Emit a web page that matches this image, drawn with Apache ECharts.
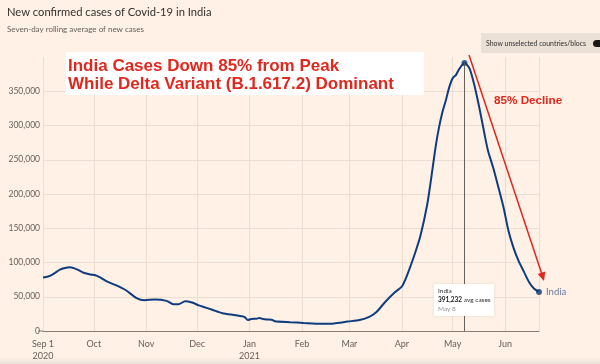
<!DOCTYPE html>
<html><head><meta charset="utf-8">
<script src="https://cdn.jsdelivr.net/npm/echarts@6/dist/echarts.min.js"></script>
<style>html,body{margin:0;padding:0;background:#fff1e5;}#c{width:600px;height:364px;}</style>
</head><body><div id="c"></div>
<script>
const dates = ['2020-09-01','2020-09-04','2020-09-07','2020-09-11','2020-09-14','2020-09-17','2020-09-21','2020-09-25','2020-09-29','2020-10-02','2020-10-05','2020-10-09','2020-10-14','2020-10-20','2020-10-26','2020-10-31','2020-11-06','2020-11-13','2020-11-17','2020-11-20','2020-11-24','2020-11-28','2020-12-02','2020-12-05','2020-12-10','2020-12-16','2020-12-24','2020-12-29','2020-12-31','2021-01-02','2021-01-05','2021-01-07','2021-01-09','2021-01-11','2021-01-14','2021-01-16','2021-01-25','2021-02-02','2021-02-12','2021-02-20','2021-02-28','2021-03-07','2021-03-13','2021-03-17','2021-03-22','2021-03-28','2021-04-01','2021-04-04','2021-04-08','2021-04-12','2021-04-16','2021-04-19','2021-04-21','2021-04-23','2021-04-25','2021-04-27','2021-04-29','2021-05-01','2021-05-03','2021-05-05','2021-05-08','2021-05-11','2021-05-14','2021-05-17','2021-05-20','2021-05-22','2021-05-25','2021-05-28','2021-05-31','2021-06-03','2021-06-06','2021-06-09','2021-06-12','2021-06-15','2021-06-18','2021-06-21'];
const cases = [78000,79500,83000,89500,92000,93000,90000,85000,82500,81500,78000,72000,67000,59500,48500,45000,46000,44000,39000,39000,43500,41500,37500,35000,31000,26000,23000,20500,16000,17500,18000,19000,17500,16800,16500,14200,12800,11700,10500,11000,13800,16000,21000,27700,42000,56800,65000,81000,108000,139500,185000,235000,270000,298000,320000,337000,356000,369000,374000,383000,391232,383000,357000,323000,285000,262000,238000,210000,181000,146000,121000,102000,87000,72000,62000,57000];
const monthLabels = ['Jan\n2021','Feb','Mar','Apr','May','Jun','Jul','Aug','Sep 1\n2020','Oct','Nov','Dec'];
const yTicks = [0,50000,100000,150000,200000,250000,300000,350000];
const peakDate = '2021-05-08', peakValue = 391232;
const lastDate = dates[dates.length-1], lastValue = cases[cases.length-1];

const chart = echarts.init(document.getElementById('c'), null, {renderer:'canvas'});
const navy = '#0f3c7e', red = '#e0281e', gray = '#66605c';
const font = 'Lato, "Open Sans", sans-serif';
const arial = '"Liberation Sans", Arial, sans-serif';
chart.setOption({
  backgroundColor: '#fff1e5',
  animation: false,
  title: {
    text: 'New confirmed cases of Covid-19 in India',
    subtext: 'Seven-day rolling average of new cases',
    left: 7, top: 7, itemGap: 7, padding: 0,
    textStyle: {fontFamily: font, fontSize: 11.2, fontWeight: 'normal', color: '#33302e'},
    subtextStyle: {fontFamily: font, fontSize: 8, color: gray}
  },
  grid: {left: 43, right: 61, top: 57, bottom: 33},
  xAxis: {
    type: 'time', min: '2020-09-01', max: '2021-06-21', splitNumber: 10,
    axisLine: {lineStyle: {color: '#857e78', width: 1}},
    axisTick: {show: false},
    splitLine: {show: true, lineStyle: {color: '#ebddd0', width: 1}},
    axisLabel: {
      fontFamily: font, fontSize: 9, color: gray, margin: 7, lineHeight: 12,
      formatter: function (v) { return monthLabels[new Date(v).getMonth()]; }
    }
  },
  yAxis: {
    type: 'value', min: 0, max: 400000, interval: 50000,
    axisLine: {show: false}, axisTick: {show: false},
    splitLine: {show: true, showMaxLine: false, lineStyle: {color: '#ebddd0', width: 1}},
    axisLabel: {
      fontFamily: font, fontSize: 8.5, color: gray, margin: 3, showMaxLabel: false,
      formatter: function (v) { return yTicks.indexOf(v) >= 0 ? v.toLocaleString('en-US') : ''; }
    }
  },
  series: [
    {
      type: 'line', data: dates.map((d, i) => [d, cases[i]]), showSymbol: false, smooth: 0.25,
      lineStyle: {color: navy, width: 2}, itemStyle: {color: navy}, z: 3,
      markLine: {
        silent: true, symbol: 'none', label: {show: false},
        lineStyle: {color: gray, width: 1, type: 'solid'},
        data: [[{coord: [peakDate, peakValue]}, {coord: [peakDate, 0]}]]
      }
    },
    {
      type: 'scatter', symbolSize: 6, itemStyle: {color: navy}, z: 4,
      data: [
        [peakDate, peakValue],
        {value: [lastDate, lastValue], label: {show: true, position: 'right', distance: 4, formatter: 'India', fontFamily: font, fontSize: 9.5, color: '#3c5b8f'}}
      ]
    }
  ],
  graphic: [
    {type: 'rect', left: 0, top: 357, shape: {width: 600, height: 7}, style: {fill: {type: 'linear', x: 0, y: 0, x2: 0, y2: 1, colorStops: [{offset: 0, color: '#fff1e5'}, {offset: 1, color: '#ece2d9'}]}}, silent: true},
    {type: 'line', shape: {x1: 38, y1: 331, x2: 43, y2: 331}, style: {stroke: '#857e78', lineWidth: 1}},
    {type: 'rect', shape: {x: 481, y: 33, width: 119, height: 20}, style: {fill: '#ebe0d6'}},
    {type: 'text', x: 486, y: 43.5, style: {text: 'Show unselected countries/blocs', fontFamily: font, fontSize: 6.9, fill: '#33302e', verticalAlign: 'middle'}},
    {type: 'rect', shape: {x: 593, y: 40, width: 12, height: 7, r: 3.5}, style: {fill: '#1a1817'}},
    {type: 'rect', shape: {x: 66, y: 52, width: 358, height: 43}, style: {fill: '#ffffff'}, z: 10},
    {type: 'text', x: 68, y: 66, z: 11, style: {text: 'India Cases Down 85% from Peak', fontFamily: arial, fontWeight: 'bold', fontSize: 17, fill: red, verticalAlign: 'middle'}},
    {type: 'text', x: 68, y: 84.5, z: 11, style: {text: 'While Delta Variant (B.1.617.2) Dominant', fontFamily: arial, fontWeight: 'bold', fontSize: 17, fill: red, verticalAlign: 'middle'}},
    {type: 'text', x: 494, y: 101, z: 11, style: {text: '85% Decline', fontFamily: arial, fontWeight: 'bold', fontSize: 11.7, fill: red, verticalAlign: 'middle'}},
    {type: 'line', z: 11, shape: {x1: 469, y1: 55, x2: 541.5, y2: 273}, style: {stroke: red, lineWidth: 1.5}},
    {type: 'polygon', z: 11, shape: {points: [[544, 281], [545.3, 271.6], [537.7, 274.1]]}, style: {fill: red}},
    {type: 'rect', z: 12, shape: {x: 434, y: 284, width: 60, height: 32}, style: {fill: '#ffffff', shadowBlur: 2, shadowColor: 'rgba(0,0,0,0.12)'}},
    {type: 'text', z: 13, x: 438, y: 291, style: {text: 'India', fontFamily: font, fontSize: 6.5, fill: '#33302e', verticalAlign: 'middle'}},
    {type: 'text', z: 13, x: 438, y: 300, style: {text: '{b|391,232} avg cases', rich: {b: {fontFamily: font, fontSize: 6.5, fontWeight: 'bold', fill: '#1a1817'}}, fontFamily: font, fontSize: 6.5, fill: '#33302e', verticalAlign: 'middle'}},
    {type: 'text', z: 13, x: 438, y: 309, style: {text: 'May 8', fontFamily: font, fontSize: 6.5, fill: '#9a938d', verticalAlign: 'middle'}}
  ]
});
</script></body></html>
